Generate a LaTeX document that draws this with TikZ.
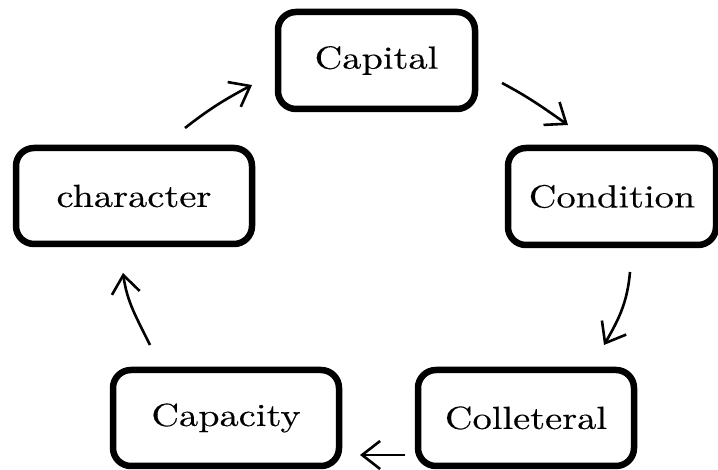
\documentclass[tikz,border=0pt]{standalone}
\usepackage{fontspec}
\newfontfamily\boxfont{lmroman10-regular.otf}[FakeBold=0.3]
\usetikzlibrary{arrows.meta}
\begin{document}
\begin{tikzpicture}[x=1pt,y=1pt,
  box/.style={draw=black, line width=6.5pt, rounded corners=18pt, fill=white,
    inner sep=0pt, font=\boxfont\fontsize{32}{40}\selectfont},
  flow/.style={line width=2.6pt, -{Straight Barb[length=18pt,width=28pt]}}]
\useasboundingbox (0,0) rectangle (718,470);
\newcommand{\wide}[1]{\scalebox{1.2}[1]{#1}}
% boxes
\node[box, minimum width=197pt, minimum height=97pt] (cap)  at (376.5,409.5) {\wide{Capital}};
\node[box, minimum width=208pt, minimum height=97pt] (cond) at (612,273.5) {\wide{Condition}};
\node[box, minimum width=216pt, minimum height=96pt] (coll) at (526,52) {\wide{Colleteral}};
\node[box, minimum width=226pt, minimum height=96pt] (capa) at (226,52) {\wide{Capacity}};
\node[box, minimum width=236pt, minimum height=96pt] (char) at (134,274) {\wide{character}};
% arrow end points
\coordinate (a1s) at (502,387); \coordinate (a1e) at (568,345);
\coordinate (a2s) at (630,198); \coordinate (a2e) at (604,125);
\coordinate (a3s) at (405,15);  \coordinate (a3e) at (360,15);
\coordinate (a4s) at (150,125); \coordinate (a4e) at (123,197);
\coordinate (a5s) at (185,342); \coordinate (a5e) at (252,385);
% connectors
\draw[flow] (a1s) to[out=-28, in=145] (a1e);
\draw[flow] (a2s) to[out=-95, in=60] (a2e);
\draw[flow] (a3s) -- (a3e);
\draw[flow] (a4s) to[out=116, in=-82] (a4e);
\draw[flow] (a5s) to[out=38, in=-152] (a5e);
\end{tikzpicture}
\end{document}
